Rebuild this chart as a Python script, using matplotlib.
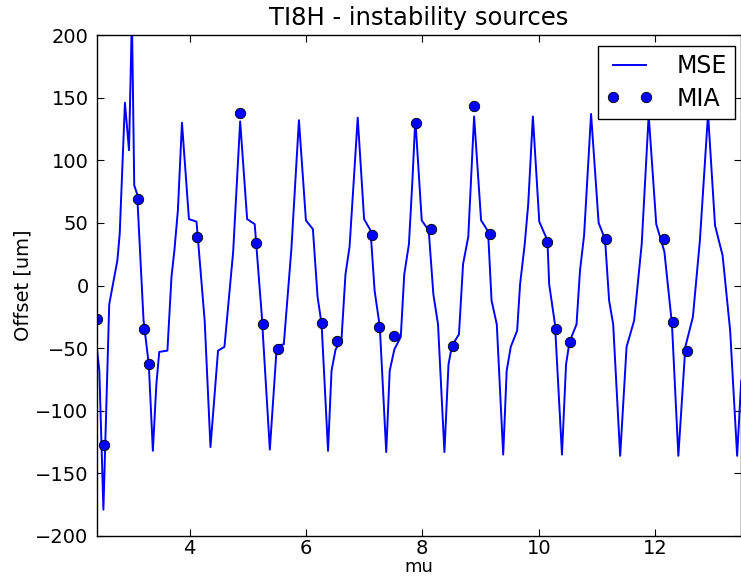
import matplotlib
matplotlib.use("Agg")
import matplotlib.pyplot as plt

# MSE scan (line)
mse_mu = [2.41, 2.45, 2.52, 2.62, 2.76, 2.80, 2.89, 2.96, 3.01, 3.05, 3.10,
          3.21, 3.30, 3.37, 3.43, 3.48, 3.62, 3.69, 3.74, 3.80, 3.87, 3.99,
          4.12, 4.26, 4.36, 4.49, 4.60, 4.75, 4.87, 4.99, 5.12, 5.24, 5.38,
          5.50, 5.62, 5.75, 5.88, 6.00, 6.12, 6.20, 6.27, 6.38, 6.44, 6.51,
          6.61, 6.68, 6.75, 6.84, 6.89, 7.00, 7.11, 7.18, 7.27, 7.38, 7.44,
          7.52, 7.63, 7.69, 7.77, 7.83, 7.88, 7.99, 8.11, 8.19, 8.27, 8.38,
          8.45, 8.51, 8.63, 8.70, 8.79, 8.89, 9.01, 9.08, 9.13, 9.19, 9.28,
          9.39, 9.45, 9.52, 9.63, 9.68, 9.76, 9.82, 9.90, 10.01, 10.15, 10.18,
          10.28, 10.40, 10.47, 10.53, 10.65, 10.71, 10.78, 10.90, 11.03, 11.14,
          11.21, 11.28, 11.40, 11.51, 11.64, 11.77, 11.89, 12.02, 12.16, 12.29,
          12.40, 12.52, 12.65, 12.77, 12.91, 13.03, 13.16, 13.29, 13.41, 13.48]
mse_off = [-51, -68, -179, -15, 20, 41, 146, 108, 215, 80, 73,
           -28, -63, -132, -79, -53, -52, 7, 28, 60, 130, 53,
           51, -28, -129, -52, -49, 27, 131, 53, 49, -23, -131,
           -48, -47, 29, 132, 52, 45, -9, -31, -132, -68, -51,
           -44, 9, 31, 97, 134, 53, 44, -4, -33, -133, -68,
           -51, -41, 9, 33, 84, 133, 52, 44, -7, -31, -133,
           -63, -48, -39, 17, 39, 135, 52, 47, 43, -12, -31,
           -135, -68, -49, -36, 1, 33, 65, 135, 51, 36, 1,
           -31, -135, -63, -45, -31, 12, 40, 137, 50, 37,
           -12, -31, -136, -49, -28, 33, 136, 49, 27, -31,
           -136, -49, -25, 36, 137, 48, 24, -36, -136, -76]

# MIA measurements (dots)
mia_mu = [2.41, 2.53, 3.12, 3.21, 3.30, 4.13, 4.87, 5.14, 5.26, 5.52,
          6.28, 6.53, 7.14, 7.26, 7.52, 7.90, 8.15, 8.52, 8.89, 9.16,
          10.15, 10.29, 10.54, 11.16, 12.16, 12.30, 12.54]
mia_off = [-27, -127, 69, -35, -63, 39, 138, 34, -31, -51,
           -30, -44, 40, -33, -40, 130, 45, -48, 143, 41,
           35, -35, -45, 37, 37, -29, -52]

fig = plt.figure(figsize=(7.41, 5.78), dpi=100)
ax = fig.add_axes([0.1309, 0.0727, 0.8686, 0.8667])

ax.plot(mse_mu, mse_off, color="blue", lw=1.4, label="MSE")
ax.plot(mia_mu, mia_off, "o", color="blue", ms=7.5, mec="black", mew=0.6,
        label="MIA")

ax.set_xlim(2.41, 13.47)
ax.set_ylim(-200, 200)
ax.set_xticks([4, 6, 8, 10, 12])
ax.set_yticks(range(-200, 201, 50))
ax.tick_params(direction="in", top=True, right=True, length=5,
               labelsize=14)
ax.tick_params(axis="y", pad=6)
ax.tick_params(axis="x", pad=2)
for s in ax.spines.values():
    s.set_linewidth(1.0)

ax.set_xlabel("mu", fontsize=13, labelpad=0)
ax.set_ylabel("Offset [um]", fontsize=14, labelpad=2)
ax.set_title("TI8H - instability sources", fontsize=17.5, pad=7)

leg = ax.legend(loc="upper right", numpoints=2, fontsize=17,
                fancybox=False, framealpha=1, edgecolor="black",
                bbox_to_anchor=(0.992, 0.978), borderaxespad=0,
                handlelength=2.0, handletextpad=1.0,
                borderpad=0.35, labelspacing=0.35)
leg.get_frame().set_linewidth(1.0)

fig.savefig("out.png", dpi=100)
